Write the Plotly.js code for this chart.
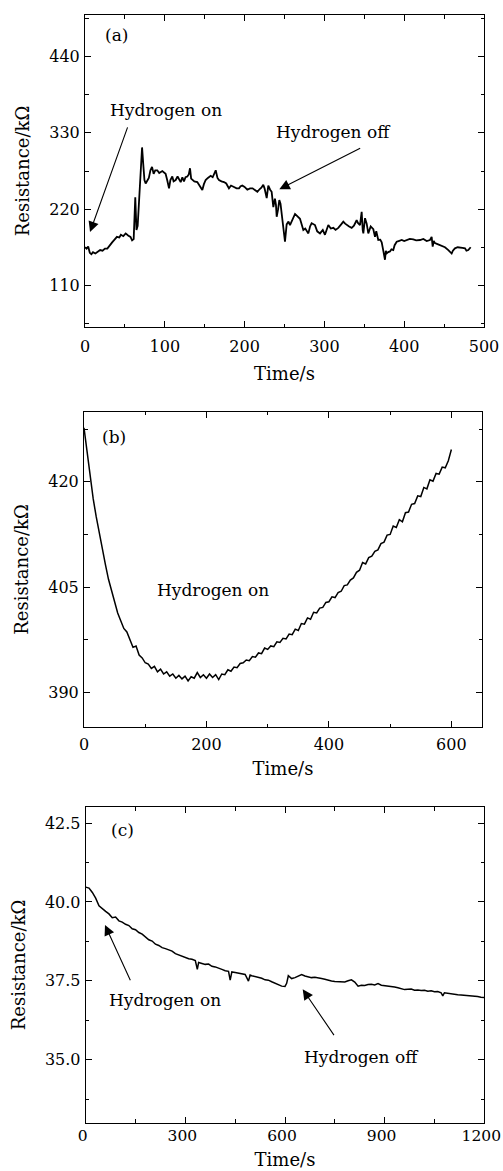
<!DOCTYPE html>
<html>
<head>
<meta charset="utf-8">
<script src="https://cdn.plot.ly/plotly-3.0.1.min.js"></script>
<style>html,body{margin:0;padding:0;background:#fff;}#chart{width:503px;height:1171px;}</style>
</head>
<body>
<div id="chart"></div>
<script>
// ---------- Panel (a) ----------
const a_time = [0,2,4,6,8,10,13,16,19,22,25,28,31,34,37,40,43,45,48,51,54,57,59,61,63,64.5,66,67.5,69,71.5,73,74.5,76,78,80,82,84,86,88,90.6,93,96.9,99,101,103,105.3,107,109.4,111,113.6,116,119.9,122,124,126,128.2,130,131.6,133,134.5,137,140.7,143,145,147,149,151.2,154,157.5,160,163.8,166,167.9,171,174.2,177,180.4,183,186.7,190,193,195,197.1,200,203.4,206.8,210,213,216,219,221,223.4,225,227.7,229.7,232,233.9,236,238,239.3,240.2,242,243.5,245,246.5,248.5,250.6,252.7,255,256.9,260,263.2,266,269.4,271,273.6,276,279.9,282,284,288.2,291,294.5,298,300.7,303,304.9,308,311.2,314,317.4,321,323.7,326,327.9,331,334.2,337,340.4,342,344.6,346.7,348,348.8,350.9,353,355,358,361.3,363.4,365,367.5,370,371.8,373.5,375.9,377,378,380,382.2,384,386.3,388,390.6,393,396.9,400,403.1,407,411.4,415,419.8,424,428.2,432.3,434.4,435.7,437,438.6,441,444.9,448,451.1,455.3,459.5,461,463.6,467,469.9,473,476.2,478,480.3,483.3];
const a_res = [165,163,166,157,155,158,156,158,161,160,163,163,168,172,176,180,179,183,181,185,182,180,175,177,237,190,196,225,252,309,285,262,257,262,265,276,281,271,276,276,272,275,273,271,262,250,262,267,260,262,267,259,266,260,266,267,270,279,264,262,260,259,255,250,247.6,256,262,265,268,266,276,265,262,260,259,257,250,254,252,250,250,253,254,252,248,250,250,248,245,249,251,255,250,236,254,248,245,223,235,226,209,220,233,228,215,195,173,198,202,197,205,213,210,206,200,190,192,185,195,199.6,197,188,185,190,183,192,197,192,193,190,193,198,202,199,197,195,193,196,204,200,197,216,190,185,207,199,185,195,191,180,188,175.5,176,172,162,147,160,156,158,159,162,161,168,173,174,175.5,174,175,177,176.5,175,175.5,177,174,175.5,180,166,174,171,170,168,167,165,161,156,160,163.5,165,165,164,163.5,160,161,165];

// ---------- Panel (b) ----------
const b_time = [0,5,10,15,20,25,30,35,40,45,50,55,60,65,70,75,80,85,90,95,100,105,110,115,120,125,130,135,140,145,150,155,160,165,170,175,180,185,190,195,200,205,210,215,220,225,230,235,240,245,250,255,260,265,270,275,280,285,290,295,300,305,310,315,320,325,330,335,340,345,350,355,360,365,370,375,380,385,390,395,400,405,410,415,420,425,430,435,440,445,450,455,460,465,470,475,480,485,490,495,500,505,510,515,520,525,530,535,540,545,550,555,560,565,570,575,580,585,590,595,600];
const b_res = [427.7,424.3,420.9,417.6,415.0,412.6,410.5,408.2,406.1,404.4,402.9,401.3,400.2,399.1,398.6,397.6,396.4,396.6,395.3,394.9,394.2,394.0,393.4,393.7,392.9,393.3,392.6,392.9,392.3,392.6,392.0,392.4,391.9,392.3,391.6,392.2,392.0,392.8,392.1,392.5,392.0,392.6,392.1,392.5,391.8,392.6,392.5,393.2,393.0,393.6,393.5,394.1,394.2,394.6,394.5,395.1,395.0,395.6,395.5,396.3,396.1,396.6,396.5,397.2,397.1,397.7,397.6,398.3,398.2,399.0,398.8,399.8,399.7,400.6,400.4,401.4,401.3,402.0,402.1,402.8,402.9,403.6,403.5,404.2,404.4,405.2,405.3,406.0,406.3,407.1,407.4,408.5,408.3,409.2,409.4,410.1,410.3,411.2,411.4,412.4,412.5,413.7,413.5,414.6,414.3,415.6,415.7,416.8,416.9,418.0,417.9,419.2,419.0,420.3,420.1,421.2,421.1,422.1,422.0,423.0,424.6];

// ---------- Panel (c) ----------
const c_time = [0,10,20,30,40,50,60,70,80,90,100,110,120,130,140,150,160,170,180,190,200,210,220,230,240,250,260,270,280,290,300,310,320,330,336,340,350,360,370,380,390,400,410,420,430,435,440,450,460,470,480,490,495,500,510,520,530,540,550,560,570,580,590,600,605,610,620,630,640,650,660,670,680,690,700,710,720,730,740,750,760,770,780,790,800,810,820,830,840,850,860,870,880,890,900,910,920,930,940,950,960,970,980,990,1000,1010,1020,1030,1040,1050,1060,1070,1075,1080,1090,1100,1110,1120,1130,1140,1150,1160,1170,1180,1190,1200];
const c_res = [40.47,40.44,40.30,40.12,39.88,39.78,39.70,39.62,39.50,39.52,39.40,39.36,39.29,39.25,39.15,39.12,39.03,38.98,38.90,38.80,38.76,38.66,38.62,38.55,38.52,38.48,38.44,38.36,38.32,38.27,38.23,38.20,38.18,38.14,37.86,38.08,38.05,38.02,38.03,37.96,37.94,37.91,37.86,37.82,37.80,37.52,37.78,37.76,37.74,37.73,37.70,37.49,37.68,37.66,37.64,37.61,37.58,37.53,37.52,37.47,37.42,37.37,37.33,37.32,37.42,37.66,37.57,37.60,37.64,37.70,37.65,37.62,37.60,37.61,37.58,37.57,37.55,37.51,37.49,37.48,37.47,37.48,37.46,37.50,37.53,37.46,37.33,37.36,37.35,37.38,37.39,37.37,37.41,37.36,37.35,37.34,37.31,37.30,37.28,37.24,37.22,37.23,37.24,37.20,37.21,37.19,37.20,37.17,37.18,37.15,37.16,37.12,37.02,37.12,37.10,37.09,37.08,37.06,37.05,37.04,37.05,37.02,37.03,37.00,36.98,36.97];

// ---------- Labels ----------
const xTitle = 'Time/s';
const yTitle = 'Resistance/kΩ';
const panelLabels = ['(a)', '(b)', '(c)'];
const txtOn = 'Hydrogen on';
const txtOff = 'Hydrogen off';

const W = 503, H = 1171;
const FONT = "'DejaVu Serif', serif";

const lineStyle = {color: '#000', width: 1.5};
const traces = [
  {x: a_time, y: a_res, xaxis: 'x', yaxis: 'y', type: 'scatter', mode: 'lines', line: {color: '#000', width: 1.8}, hoverinfo: 'skip'},
  {x: b_time, y: b_res, xaxis: 'x2', yaxis: 'y2', type: 'scatter', mode: 'lines', line: lineStyle, hoverinfo: 'skip'},
  {x: c_time, y: c_res, xaxis: 'x3', yaxis: 'y3', type: 'scatter', mode: 'lines', line: lineStyle, hoverinfo: 'skip'}
];

function axisBase() {
  return {
    showline: true, linecolor: '#000', linewidth: 1, mirror: 'ticks',
    ticks: 'inside', ticklen: 6, tickwidth: 1, tickcolor: '#000',
    showgrid: false, zeroline: false, fixedrange: true, ticklabeloverflow: 'allow',
    tickfont: {family: FONT, size: 16, color: '#000'},
    minor: {ticks: 'inside', ticklen: 3.5, tickwidth: 1, tickcolor: '#000', showgrid: false}
  };
}
function xAxis(dom, anchor, range, dtick, mdtick, lblOff, ttlOff) {
  const ax = axisBase();
  Object.assign(ax, {domain: dom, anchor: anchor, range: range, tickmode: 'linear', tick0: 0, dtick: dtick,
    ticklabelstandoff: lblOff,
    title: {text: xTitle, font: {family: FONT, size: 18, color: '#000'}, standoff: ttlOff}});
  ax.minor.tick0 = 0; ax.minor.dtick = mdtick;
  return ax;
}
function yAxis(dom, anchor, range, tick0, dtick, mdtick, fmt) {
  const ax = axisBase();
  Object.assign(ax, {domain: dom, anchor: anchor, range: range, tickmode: 'linear', tick0: tick0, dtick: dtick,
    ticklabelstandoff: 1,
    title: {text: yTitle, font: {family: FONT, size: 18, color: '#000'}, standoff: 14}});
  if (fmt) ax.tickformat = fmt;
  ax.minor.tick0 = tick0; ax.minor.dtick = mdtick;
  return ax;
}

const layout = {
  width: W, height: H,
  margin: {l: 0, r: 0, t: 0, b: 0},
  paper_bgcolor: '#fff', plot_bgcolor: '#fff', showlegend: false,
  font: {family: FONT, size: 16, color: '#000'},
  xaxis:  xAxis([85/W, 484/W], 'y', [0, 500], 100, 50, 5, 12),
  yaxis:  yAxis([(H-327)/H, (H-15)/H], 'x', [50, 500], 110, 110, 55),
  xaxis2: xAxis([84/W, 482/W], 'y2', [0, 650], 200, 100, 2, 9),
  yaxis2: yAxis([(H-727.3)/H, (H-411.7)/H], 'x2', [385, 430], 390, 15, 7.5),
  xaxis3: xAxis([85.7/W, 484.3/W], 'y3', [0, 1200], 300, 150, -1, 9),
  yaxis3: yAxis([(H-1122.7)/H, (H-807.3)/H], 'x3', [33, 43], 35, 2.5, 1.25, '.1f'),
  annotations: []
};
layout.xaxis3.ticklabelshift = -3;
layout.xaxis3.tickfont = {family: FONT, size: 15.5, color: '#000'};

function txt(xr, yr, x, y, t) {
  return {xref: xr, yref: yr, x: x, y: y, text: t, showarrow: false,
    font: {family: FONT, size: 17, color: '#000'}, xanchor: 'center', yanchor: 'middle'};
}
function arrow(xr, yr, x, y, ax, ay) {
  return {xref: xr, yref: yr, axref: xr, ayref: yr, x: x, y: y, ax: ax, ay: ay, text: '',
    showarrow: true, arrowhead: 2, arrowsize: 1.9, arrowwidth: 1.1, arrowcolor: '#000', standoff: 0, startstandoff: 0};
}

layout.annotations.push(
  txt('x', 'y', 40, 471, panelLabels[0]),
  txt('x', 'y', 101.5, 363, txtOn),
  arrow('x', 'y', 6.3, 187, 54, 340),
  txt('x', 'y', 310.8, 331, txtOff),
  arrow('x', 'y', 243.5, 248.6, 346.7, 309),
  txt('x2', 'y2', 49, 426.4, panelLabels[1]),
  txt('x2', 'y2', 210, 404.6, txtOn),
  txt('x3', 'y3', 112, 42.28, panelLabels[2]),
  txt('x3', 'y3', 238, 36.89, txtOn),
  arrow('x3', 'y3', 58.1, 39.27, 136.4, 37.47),
  txt('x3', 'y3', 831, 35.09, txtOff),
  arrow('x3', 'y3', 653.3, 37.23, 750.5, 35.73)
);

Plotly.newPlot('chart', traces, layout, {displayModeBar: false, staticPlot: true});
</script>
</body>
</html>
